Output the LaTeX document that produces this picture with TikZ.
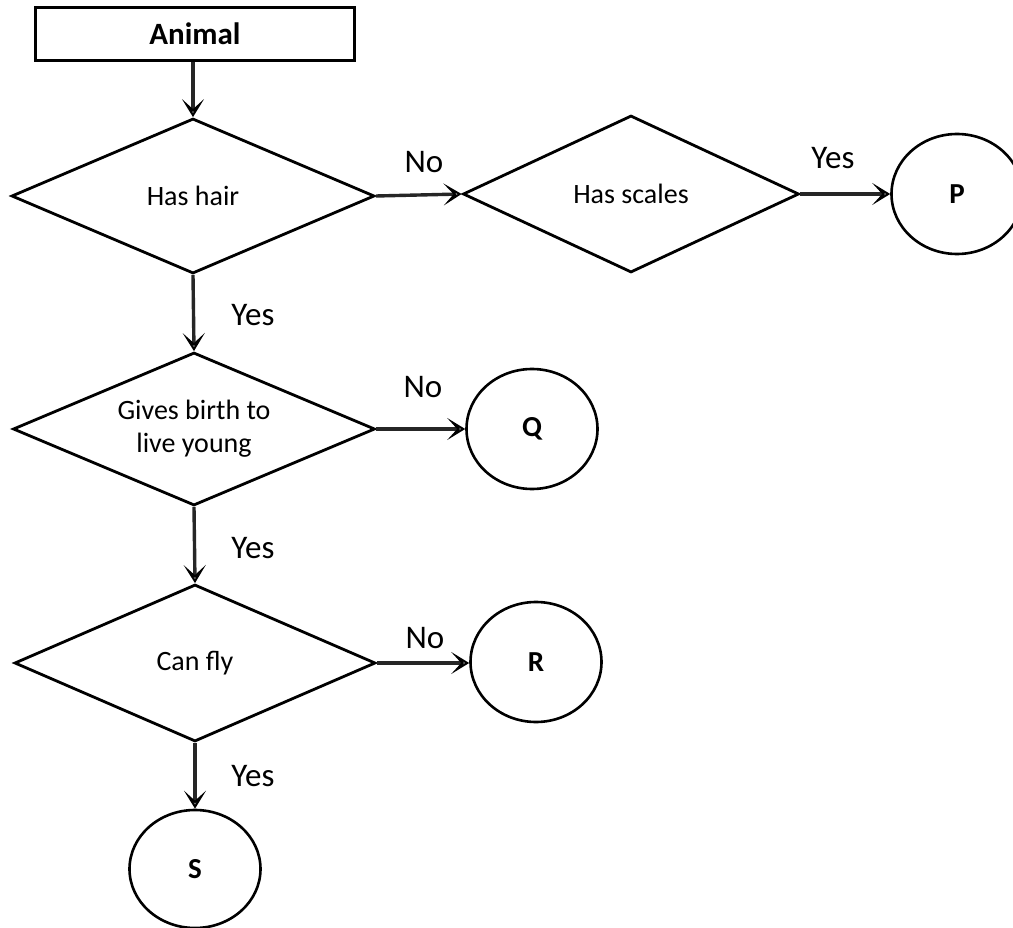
\documentclass[tikz,border=0pt]{standalone}
\usepackage{fontspec}
\setmainfont{Carlito}
\usetikzlibrary{shapes.geometric,arrows.meta}
\tikzset{
  x=1pt,y=-1pt,
  boxnode/.style={draw,line width=2.8pt,rectangle,minimum width=319pt,minimum height=53pt,inner sep=0pt,font=\fontsize{31}{34}\selectfont\bfseries},
  decision/.style={draw,line width=2.8pt,diamond,aspect=2.35,inner sep=0pt,font=\fontsize{28}{33}\selectfont,align=center},
  endnode/.style={draw,line width=2.6pt,ellipse,minimum width=131pt,minimum height=120pt,inner sep=0pt,font=\fontsize{29}{32}\selectfont\bfseries},
  flow/.style={line width=3.4pt,draw=black!85,-{Stealth[length=18pt,width=22pt,inset=10pt,color=black,fill=gray!55,line width=2pt]}},
  lbl/.style={font=\fontsize{33}{36}\selectfont}
}
\begin{document}
\begin{tikzpicture}
\useasboundingbox (0,0) rectangle (1013,928);
\clip (0,0) rectangle (1013,928);
\node[boxnode] (animal) at (195,34) {Animal};
\node[decision,minimum width=363pt,minimum height=155pt] (d1) at (193,196) {Has hair};
\node[decision,minimum width=336pt,minimum height=157pt] (d2) at (631,194) {Has scales};
\node[endnode] (P) at (957,194) {P};
\node[decision,minimum width=362pt,minimum height=153pt] (d3) at (194,429) {Gives birth to\\live young};
\node[endnode] (Q) at (532,429) {Q};
\node[decision,minimum width=361pt,minimum height=157pt] (d4) at (195,663) {Can fly};
\node[endnode] (R) at (536,662) {R};
\node[endnode,minimum height=118pt] (S) at (195,869) {S};

\draw[flow] (animal.south -| d1.north) -- (d1.north);
\draw[flow] (d1.east) -- (d2.west);
\draw[flow] (d2.east) -- (d2.east -| P.west);
\draw[flow] (d1.south) -- (d3.north);
\draw[flow] (d3.east) -- (Q.west);
\draw[flow] (d3.south) -- (d4.north);
\draw[flow] (d4.east) -- (d4.east -| R.west);
\draw[flow] (d4.south) -- (S.north);

\node[lbl] (l1) at (424,162) {No};
\node[lbl] (l2) at (833,158) {Yes};
\node[lbl] (l3) at (253,315) {Yes};
\node[lbl] (l4) at (423,387) {No};
\node[lbl] (l5) at (253,548) {Yes};
\node[lbl] (l6) at (425,638) {No};
\node[lbl] (l7) at (253,776) {Yes};
\end{tikzpicture}
\end{document}
